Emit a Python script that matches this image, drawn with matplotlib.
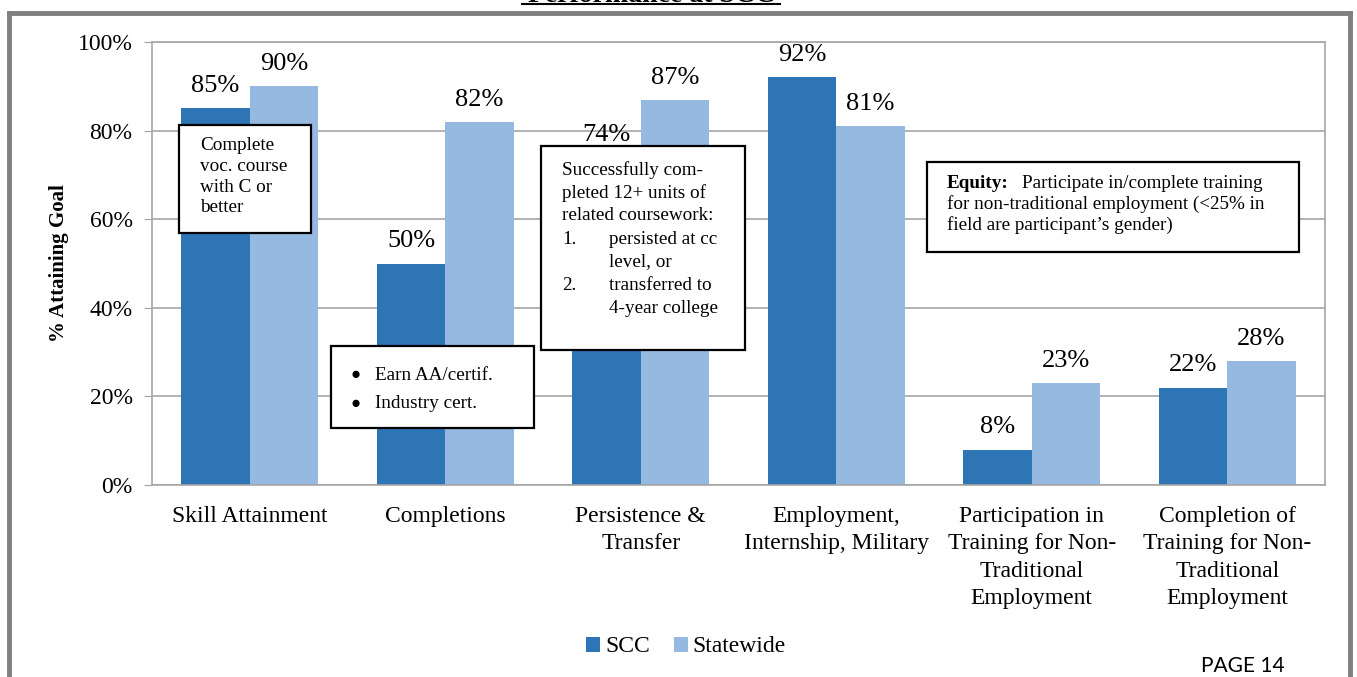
import matplotlib.pyplot as plt
from matplotlib.patches import Rectangle
from matplotlib.lines import Line2D
import numpy as np

categories = ["Skill Attainment", "Completions", "Persistence &\nTransfer",
              "Employment,\nInternship, Military",
              "Participation in\nTraining for Non-\nTraditional\nEmployment",
              "Completion of\nTraining for Non-\nTraditional\nEmployment"]
scc = [85, 50, 74, 92, 8, 22]
statewide = [90, 82, 87, 81, 23, 28]
yticks = [0, 20, 40, 60, 80, 100]

c_scc = '#2E75B6'
c_state = '#95B9E0'
serif = 'Liberation Serif'

W, H = 1357, 677
fig = plt.figure(figsize=(W / 100, H / 100), dpi=100)

def fx(x):
    return x / W

def fy(y):
    return 1 - y / H

ax = fig.add_axes([fx(152), fy(485), fx(1325) - fx(152), fy(42) - fy(485)])

x = np.arange(len(categories))
w = 0.35
ax.bar(x - w / 2, scc, w, color=c_scc, label='SCC', zorder=2)
ax.bar(x + w / 2, statewide, w, color=c_state, label='Statewide', zorder=2)

for i in range(len(x)):
    ax.text(x[i] - w / 2, scc[i] + 2.5, f"{scc[i]}%", ha='center', va='bottom',
            fontsize=19, family=serif)
    ax.text(x[i] + w / 2, statewide[i] + 2.5, f"{statewide[i]}%", ha='center', va='bottom',
            fontsize=19, family=serif)

ax.set_xlim(-0.5, 5.5)
ax.set_ylim(0, 100)
ax.set_yticks(yticks)
ax.set_yticklabels([f"{t}%" for t in yticks], fontsize=17, family=serif)
ax.set_xticks(x)
ax.set_xticklabels(categories, fontsize=17, family=serif, linespacing=1.4)
ax.tick_params(axis='x', length=0, pad=15)
ax.tick_params(axis='y', length=6, color='#A0A0A0', pad=8)
ax.yaxis.grid(True, color='#A6A6A6', linewidth=1.2, zorder=0)
ax.set_axisbelow(True)
for s in ax.spines.values():
    s.set_color('#A6A6A6')
    s.set_linewidth(1.2)
ax.set_ylabel("% Attaining Goal", fontsize=15, fontweight='bold', family=serif, labelpad=6)

fig.legend(loc='center', bbox_to_anchor=(fx(686), fy(647)), ncol=2, frameon=False,
           prop={'family': serif, 'size': 17}, handlelength=0.6, handleheight=0.6,
           handletextpad=0.2, columnspacing=1.0)

# annotation boxes
def box(x0, y0, x1, y1):
    fig.add_artist(Rectangle((fx(x0), fy(y1)), fx(x1) - fx(x0), fy(y0) - fy(y1),
                             transform=fig.transFigure, facecolor='white',
                             edgecolor='black', linewidth=1.6, zorder=5))

def txt(xp, yp, s, size=13.8, **kw):
    fig.text(fx(xp), fy(yp), s, ha='left', va='center', fontsize=size, family=serif,
             zorder=6, **kw)

box(179, 125, 311, 233)
for i, line in enumerate(["Complete", "voc. course", "with C or", "better"]):
    txt(200, 145 + i * 21, line)

box(331, 346, 534, 428)
txt(351, 375, "\u25CF", size=12)
txt(375, 375, "Earn AA/certif.")
txt(351, 404, "\u25CF", size=12)
txt(375, 404, "Industry cert.")

box(541, 146, 745, 350)
pers = [("", 562, "Successfully com-"), ("", 562, "pleted 12+ units of"),
        ("", 562, "related coursework:"), ("1.", 609, "persisted at cc"),
        ("", 609, "level, or"), ("2.", 609, "transferred to"),
        ("", 609, "4-year college")]
for i, (num, xx, line) in enumerate(pers):
    yy = 170 + i * 23
    if num:
        txt(562, yy, num)
    txt(xx, yy, line)

box(927, 162, 1299, 252)
txt(947, 184, "Equity:", fontweight='bold')
txt(1022, 184, "Participate in/complete training")
txt(947, 204, "for non-traditional employment (<25% in")
txt(947, 225, "field are participant\u2019s gender)")

# page frame
for (xa, ya, xb, yb) in [(9, 13, 9, H), (9, 13, 1350, 13), (1350, 13, 1350, H)]:
    fig.add_artist(Line2D([fx(xa), fx(xb)], [fy(ya), fy(yb)], transform=fig.transFigure,
                          color='#808080', linewidth=3.5))

# page title, mostly above the visible crop
fig.text(fx(651), fy(1.5), "Performance at SCC", ha='center', va='baseline', fontsize=20,
         fontweight='bold', family=serif)
fig.add_artist(Line2D([fx(522), fx(780)], [fy(4), fy(4)], transform=fig.transFigure,
                      color='black', linewidth=1.5))

fig.text(fx(1243), fy(666), "PAGE 14", ha='center', va='center', fontsize=15, family='Lato')

fig.savefig("out.png", dpi=100)
